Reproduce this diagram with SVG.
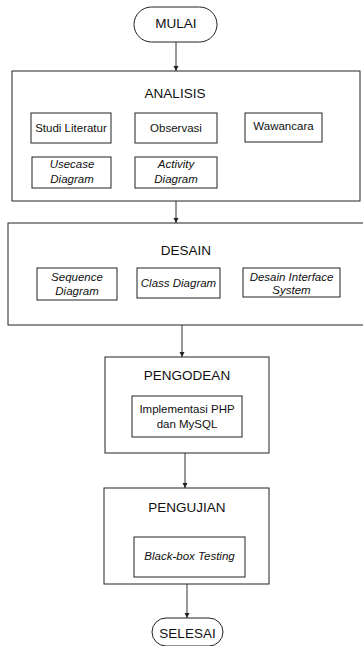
<svg xmlns="http://www.w3.org/2000/svg" width="363" height="646" viewBox="0 0 363 646">
  <style>
    .box { fill: #fff; stroke: #222; stroke-width: 1; }
    .term { fill: #fff; stroke: #222; stroke-width: 1; }
    .line { stroke: #333; stroke-width: 1; fill: none; }
    text { font-family: "Liberation Sans", Arial, sans-serif; fill: #111; text-anchor: middle; }
    .title { font-size: 13.5px; }
    .item { font-size: 11.5px; }
    .it { font-style: italic; }
  </style>
  <defs>
    <marker id="arrow" markerWidth="6" markerHeight="6" refX="5" refY="3" orient="auto" markerUnits="userSpaceOnUse">
      <path d="M0,0.5 L5,3 L0,5.5 Z" fill="#222"/>
    </marker>
  </defs>

  <g id="connectors">
    <line class="line" x1="176" y1="42" x2="176" y2="71" marker-end="url(#arrow)"/>
    <line class="line" x1="176" y1="201" x2="176" y2="223" marker-end="url(#arrow)"/>
    <line class="line" x1="182" y1="325" x2="182" y2="357" marker-end="url(#arrow)"/>
    <line class="line" x1="185" y1="453" x2="185" y2="488" marker-end="url(#arrow)"/>
    <line class="line" x1="187" y1="584" x2="187" y2="618" marker-end="url(#arrow)"/>
  </g>

  <g id="mulai">
    <rect class="term" x="134" y="7" width="83" height="35" rx="17.5"/>
    <text class="title" x="176" y="28">MULAI</text>
  </g>

  <g id="analisis">
    <rect class="box" x="12" y="71" width="348" height="130"/>
    <text class="title" x="175" y="98">ANALISIS</text>
  </g>
  <g id="studi-literatur">
    <rect class="box" x="31" y="113" width="80" height="30"/>
    <text class="item" x="71" y="132">Studi Literatur</text>
  </g>
  <g id="observasi">
    <rect class="box" x="135" y="113" width="82" height="30"/>
    <text class="item" x="176" y="132">Observasi</text>
  </g>
  <g id="wawancara">
    <rect class="box" x="245" y="113" width="77" height="29"/>
    <text class="item" x="283.5" y="130">Wawancara</text>
  </g>
  <g id="usecase-diagram">
    <rect class="box" x="32" y="157" width="79" height="31"/>
    <text class="item it" x="72" y="168">Usecase</text>
    <text class="item it" x="72" y="183">Diagram</text>
  </g>
  <g id="activity-diagram">
    <rect class="box" x="135" y="157" width="82" height="31"/>
    <text class="item it" x="176" y="168">Activity</text>
    <text class="item it" x="176" y="183">Diagram</text>
  </g>

  <g id="desain">
    <rect class="box" x="8" y="223" width="358" height="102"/>
    <text class="title" x="186" y="255">DESAIN</text>
  </g>
  <g id="sequence-diagram">
    <rect class="box" x="37" y="268" width="80" height="32"/>
    <text class="item it" x="77" y="281">Sequence</text>
    <text class="item it" x="77" y="295">Diagram</text>
  </g>
  <g id="class-diagram">
    <rect class="box" x="137" y="268" width="83" height="30"/>
    <text class="item it" x="178.5" y="287">Class Diagram</text>
  </g>
  <g id="desain-interface">
    <rect class="box" x="243" y="268" width="97" height="29"/>
    <text class="item it" x="291.5" y="281">Desain Interface</text>
    <text class="item it" x="291.5" y="294">System</text>
  </g>

  <g id="pengodean">
    <rect class="box" x="105" y="357" width="164" height="96"/>
    <text class="title" x="187" y="380">PENGODEAN</text>
  </g>
  <g id="implementasi">
    <rect class="box" x="132" y="396" width="110" height="41"/>
    <text class="item" x="187" y="413">Implementasi PHP</text>
    <text class="item" x="187" y="428">dan MySQL</text>
  </g>

  <g id="pengujian">
    <rect class="box" x="104" y="488" width="165" height="96"/>
    <text class="title" x="187" y="512">PENGUJIAN</text>
  </g>
  <g id="black-box">
    <rect class="box" x="134" y="537" width="111" height="40"/>
    <text class="item it" x="189.5" y="560">Black-box Testing</text>
  </g>

  <g id="selesai">
    <rect class="term" x="152" y="618" width="71" height="28" rx="14"/>
    <text class="title" x="187.5" y="638">SELESAI</text>
  </g>
</svg>
